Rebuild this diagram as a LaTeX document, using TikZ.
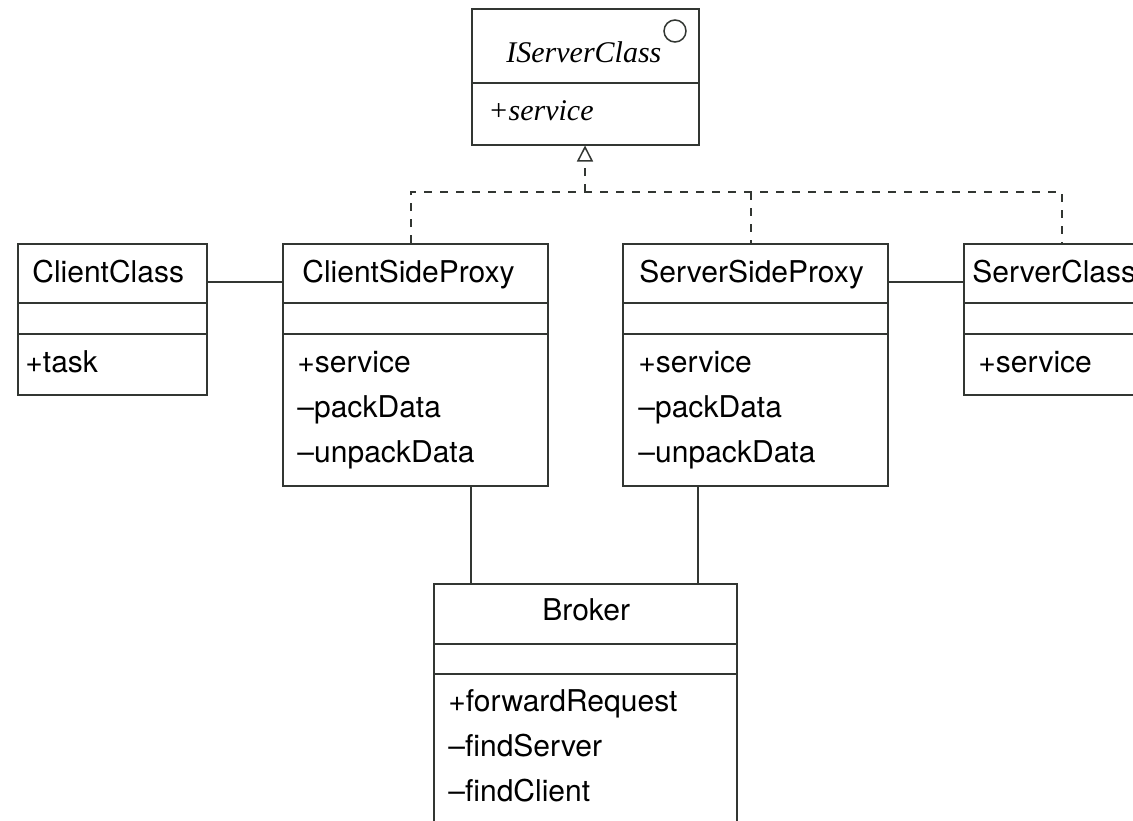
\documentclass[tikz,border=0pt]{standalone}
\usepackage{fontspec}
\setmainfont{TeX Gyre Heros}
\newfontfamily\tms{Liberation Serif}
\usetikzlibrary{arrows.meta}
\definecolor{ink}{RGB}{50,54,50}
\tikzset{
  cls/.style={draw=ink,line width=0.75pt,rectangle,inner sep=0pt,anchor=north west},
  ttl/.style={anchor=base west,inner sep=0pt,font=\fontsize{15}{18}\selectfont},
  op/.style={anchor=base west,inner sep=0pt,font=\fontsize{15}{18}\selectfont},
  itl/.style={anchor=base west,inner sep=0pt,font=\fontsize{15}{18}\selectfont\tms\itshape},
  assoc/.style={draw=ink,line width=0.75pt},
  real/.style={draw=ink,line width=0.75pt,dash pattern=on 4pt off 4pt},
  sep/.style={draw=ink,line width=0.75pt},
}

\begin{document}
\begin{tikzpicture}[x=0.5pt,y=-0.5pt]
\useasboundingbox (0,0) rectangle (1133,820);
\clip (0,0) rectangle (1133,820);
% interface
\node[cls,minimum width=113.5pt,minimum height=68pt] (iface) at (471,8) {};
\draw[sep] (iface.west |- 0,83) -- (iface.east |- 0,83);
\node[itl] (ifaceT) at (506,62) {IServerClass};
\node[itl] (ifaceop) at (488,120) {+service};
\node[draw=ink,line width=0.75pt,circle,minimum size=11pt,inner sep=0pt] (ifaceC) at (675,31) {};
% client side
\node[cls,minimum width=94.5pt,minimum height=75.5pt] (cc) at (17,243) {};
\draw[sep] (cc.west |- 0,303) -- (cc.east |- 0,303);
\draw[sep] (cc.west |- 0,334) -- (cc.east |- 0,334);
\node[ttl] (ccT) at (32,282) {ClientClass};
\node[op] (ccop) at (25,372) {+task};
\node[cls,minimum width=132.5pt,minimum height=121pt] (csp) at (282,243) {};
\draw[sep] (csp.west |- 0,303) -- (csp.east |- 0,303);
\draw[sep] (csp.west |- 0,334) -- (csp.east |- 0,334);
\node[ttl] (cspT) at (302,282) {ClientSideProxy};
\foreach \t [count=\i] in {+service,–packData,–unpackData}
  \node[op] (cspop\i) at (297,{372+45*(\i-1)}) {\t};
% server side
\node[cls,minimum width=132.5pt,minimum height=121pt] (ssp) at (622,243) {};
\draw[sep] (ssp.west |- 0,303) -- (ssp.east |- 0,303);
\draw[sep] (ssp.west |- 0,334) -- (ssp.east |- 0,334);
\node[ttl] (sspT) at (639,282) {ServerSideProxy};
\foreach \t [count=\i] in {+service,–packData,–unpackData}
  \node[op] (sspop\i) at (638,{372+45*(\i-1)}) {\t};
\node[cls,minimum width=94.5pt,minimum height=75.5pt] (sc) at (963,243) {};
\draw[sep] (sc.west |- 0,303) -- (sc.east |- 0,303);
\draw[sep] (sc.west |- 0,334) -- (sc.east |- 0,334);
\node[ttl] (scT) at (972,282) {ServerClass};
\node[op] (scop) at (978,372) {+service};
% broker
\node[cls,minimum width=151.5pt,minimum height=170pt] (bk) at (433,583) {};
\draw[sep] (bk.west |- 0,644) -- (bk.east |- 0,644);
\draw[sep] (bk.west |- 0,674) -- (bk.east |- 0,674);
\node[ttl] (bkT) at (542,620) {Broker};
\foreach \t [count=\i] in {+forwardRequest,–findServer,–findClient}
  \node[op] (bkop\i) at (448,{711+45*(\i-1)}) {\t};
% realization
\coordinate (jl) at (411,192);
\coordinate (jm) at (585,192);
\coordinate (jc) at (751,192);
\coordinate (jr) at (1062,192);
\draw[real] (jl |- csp.north) -- (jl) -- (jr) -- (jr |- sc.north);
\draw[real] (jc) -- (jc |- ssp.north);
\draw[real,-{Triangle[open,length=8pt,width=8pt]}] (jm) -- (jm |- iface.south);
% associations
\draw[assoc] (cc.east |- ccT.base) -- (csp.west |- ccT.base);
\draw[assoc] (ssp.east |- sspT.base) -- (sc.west |- sspT.base);
\coordinate (cl) at (471,0);
\coordinate (sl) at (698,0);
\draw[assoc] (csp.south -| cl) -- (bk.north -| cl);
\draw[assoc] (ssp.south -| sl) -- (bk.north -| sl);
\end{tikzpicture}
\end{document}
